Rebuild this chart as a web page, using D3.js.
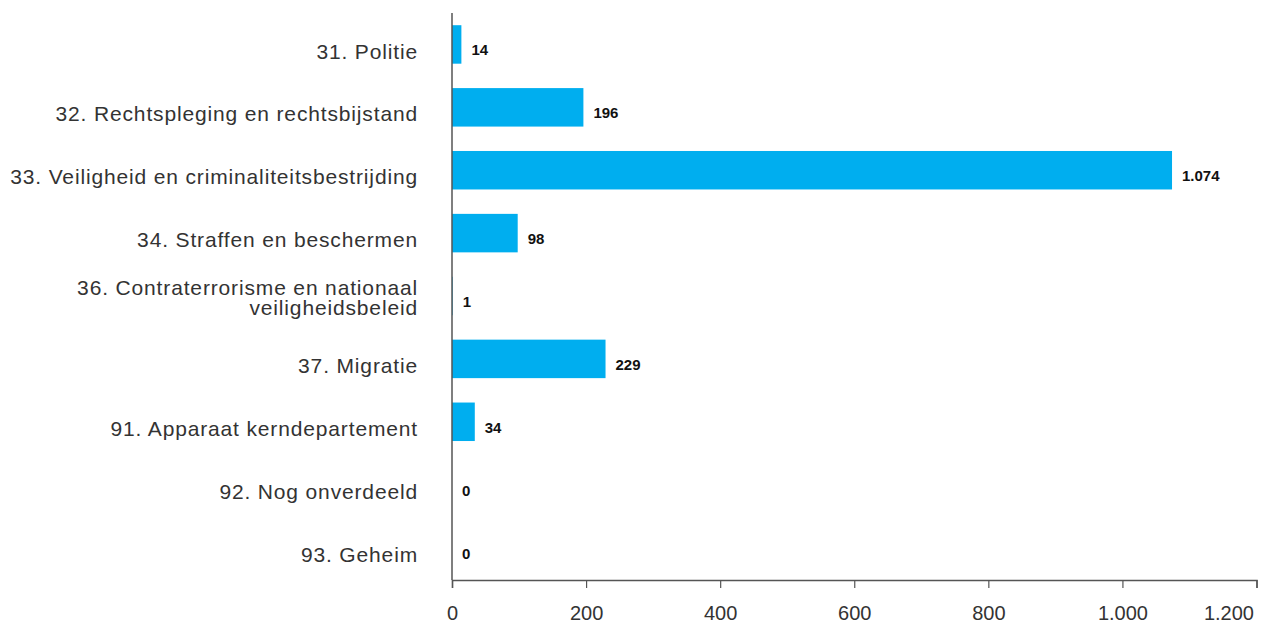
<!DOCTYPE html>
<html>
<head>
<meta charset="utf-8">
<script src="https://cdn.jsdelivr.net/npm/d3@7"></script>
<style>
  body { margin: 0; background: #fff; }
  text { font-family: "Liberation Sans", Arial, sans-serif; }
</style>
</head>
<body>
<div id="chart"></div>
<script>
// Data
var categories = [
    ["31. Politie"],
    ["32. Rechtspleging en rechtsbijstand"],
    ["33. Veiligheid en criminaliteitsbestrijding"],
    ["34. Straffen en beschermen"],
    ["36. Contraterrorisme en nationaal", "veiligheidsbeleid"],
    ["37. Migratie"],
    ["91. Apparaat kerndepartement"],
    ["92. Nog onverdeeld"],
    ["93. Geheim"]
];
var values = [14, 196, 1074, 98, 1, 229, 34, 0, 0];
var tick_values = [0, 200, 400, 600, 800, 1000, 1200];

// Variables
var chart_width = 1261;
var chart_height = 624;
var margin = { top: 13, left: 452, right: 3, bottom: 45 };

var nl = d3.formatLocale({ decimal: ",", thousands: ".", grouping: [3], currency: ["€", ""] });
var fmt = nl.format(",d");

var svg = d3.select("#chart")
    .append("svg")
    .attr("width", chart_width)
    .attr("height", chart_height);

// Scales
var x_scale = d3.scaleLinear()
    .domain([0, 1200])
    .range([margin.left, chart_width - margin.right - 1.5]);

var y_scale = d3.scaleBand()
    .domain(d3.range(values.length))
    .range([margin.top, chart_height - margin.bottom])
    .paddingInner(0.388)
    .paddingOuter(0.194);

// Bars
svg.selectAll("rect")
    .data(values)
    .enter()
    .append("rect")
    .attr("x", x_scale(0))
    .attr("y", function(d, i){ return y_scale(i); })
    .attr("width", function(d){ return x_scale(d) - x_scale(0); })
    .attr("height", y_scale.bandwidth())
    .attr("fill", "#00AEEF");

// Value labels
svg.append("g").selectAll("text")
    .data(values)
    .enter()
    .append("text")
    .attr("x", function(d){ return x_scale(d) + 10; })
    .attr("y", function(d, i){ return y_scale(i) + y_scale.bandwidth() / 2 + 11; })
    .attr("font-size", 15)
    .attr("font-weight", "bold")
    .attr("fill", "#111")
    .text(function(d){ return fmt(d); });

// Category labels
var labels = svg.append("g").selectAll("text")
    .data(categories)
    .enter()
    .append("text")
    .attr("text-anchor", "end")
    .attr("font-size", 21)
    .attr("letter-spacing", "0.85px")
    .attr("fill", "#333")
    .attr("y", function(d, i){ return y_scale(i) + y_scale.bandwidth() / 2; });

labels.selectAll("tspan")
    .data(function(d){ return d; })
    .enter()
    .append("tspan")
    .attr("x", 418)
    .attr("dy", function(d, j, nodes){
        if (nodes.length == 1) return "0.67em";
        return j == 0 ? "-0.05em" : "0.95em";
    })
    .text(function(d){ return d; });

// Axes
var x_axis = d3.axisBottom(x_scale)
    .tickValues(tick_values)
    .tickSize(8)
    .tickFormat(fmt);

var gx = svg.append("g")
    .attr("transform", "translate(0," + (chart_height - margin.bottom + 1) + ")")
    .call(x_axis);
gx.select(".domain").attr("stroke", "#555").attr("stroke-width", 1.5);
gx.selectAll(".tick line").attr("stroke", "#555").attr("stroke-width", 1.2);
gx.selectAll(".tick text")
    .attr("font-size", 20)
    .attr("font-family", "Liberation Sans, Arial, sans-serif")
    .attr("fill", "#333")
    .attr("y", 40)
    .attr("dy", 0);
// last label kept inside the picture
gx.selectAll(".tick text")
    .filter(function(d){ return d == 1200; })
    .attr("text-anchor", "end")
    .attr("x", -3);

svg.append("line")
    .attr("x1", x_scale(0)).attr("x2", x_scale(0))
    .attr("y1", margin.top).attr("y2", chart_height - margin.bottom + 1)
    .attr("stroke", "#555")
    .attr("stroke-width", 1.5);
</script>
</body>
</html>
